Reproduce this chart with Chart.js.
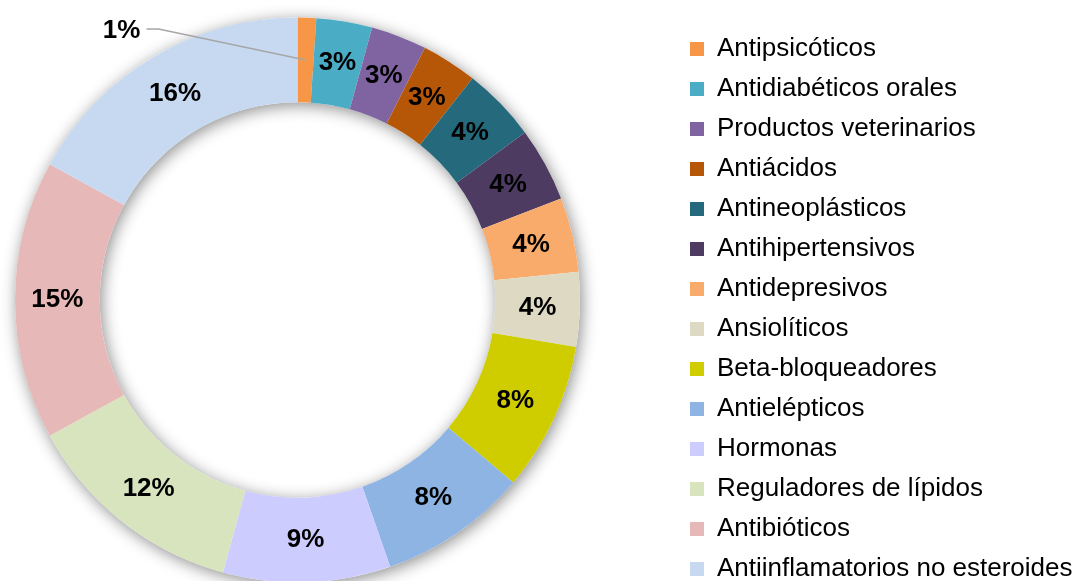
<!DOCTYPE html>
<html>
<head>
<meta charset="utf-8">
<script src="https://cdn.jsdelivr.net/npm/chart.js@4.4.1/dist/chart.umd.min.js"></script>
<style>
  html, body { margin: 0; padding: 0; background: #fff; overflow: hidden; }
  #chart { display: block; }
</style>
</head>
<body>
<canvas id="chart" width="1081" height="600"></canvas>
<script>
// 데이터 (시계 방향, 위쪽에서 시작)
const categories = [
  "Antipsicóticos",
  "Antidiabéticos orales",
  "Productos veterinarios",
  "Antiácidos",
  "Antineoplásticos",
  "Antihipertensivos",
  "Antidepresivos",
  "Ansiolíticos",
  "Beta-bloqueadores",
  "Antielépticos",
  "Hormonas",
  "Reguladores de lípidos",
  "Antibióticos",
  "Antiinflamatorios no esteroides",
];
const shares = [1, 3, 3, 3, 4, 4, 4, 4, 8, 8, 9, 12, 15, 16];
const colors = [
  "#F79646",
  "#4BACC6",
  "#8064A2",
  "#B65708",
  "#256A7C",
  "#4D3B62",
  "#F9AB6B",
  "#DDD9C3",
  "#CFCC00",
  "#8EB4E3",
  "#CCCCFF",
  "#D7E4BD",
  "#E6B9B8",
  "#C6D9F1",
];

const FONT = "Arial, 'Liberation Sans', sans-serif";

// 범례 위치 조정: 차트 영역 폭을 고정하고 범례를 오른쪽으로 이동
const legendPlacement = {
  id: "legendPlacement",
  beforeInit(chart) {
    const originalFit = chart.legend.fit;
    chart.legend.fit = function () {
      originalFit.bind(chart.legend)();
      this.width = 501;
    };
  },
  afterLayout(chart) {
    const lg = chart.legend;
    lg.left += 96;
    lg.right += 96;
    lg.top += 22;
    lg.bottom += 22;
  },
};

// 링 그림자 (엑셀 스타일)
const ringShadow = {
  id: "ringShadow",
  beforeDatasetsDraw(chart) {
    const arc = chart.getDatasetMeta(0).data[0];
    if (!arc) return;
    const { x, y, innerRadius, outerRadius } = arc.getProps(
      ["x", "y", "innerRadius", "outerRadius"],
      true
    );
    const ctx = chart.ctx;
    ctx.save();
    ctx.shadowColor = "rgba(0, 0, 0, 0.45)";
    ctx.shadowBlur = 16;
    ctx.shadowOffsetX = 2;
    ctx.shadowOffsetY = 3;
    ctx.fillStyle = "#ffffff";
    ctx.beginPath();
    ctx.arc(x, y, outerRadius, 0, Math.PI * 2);
    ctx.arc(x, y, innerRadius, 0, Math.PI * 2, true);
    ctx.closePath();
    ctx.fill();
    ctx.restore();
  },
};

// 퍼센트 라벨
const arcLabels = {
  id: "arcLabels",
  afterDatasetsDraw(chart) {
    const ctx = chart.ctx;
    const meta = chart.getDatasetMeta(0);
    ctx.save();
    ctx.font = "bold 26px " + FONT;
    ctx.fillStyle = "#000000";
    ctx.textAlign = "center";
    ctx.textBaseline = "middle";
    meta.data.forEach((arc, i) => {
      const p = arc.tooltipPosition(true);
      const text = shares[i] + "%";
      if (i === 0) {
        // 작은 조각은 바깥에 라벨 + 지시선
        const lx = p.x - 184;
        const ly = p.y - 29;
        ctx.strokeStyle = "#A6A6A6";
        ctx.lineWidth = 1.5;
        ctx.beginPath();
        ctx.moveTo(lx + 25, ly - 2);
        ctx.lineTo(lx + 37, ly - 2);
        ctx.lineTo(p.x, p.y);
        ctx.stroke();
        ctx.fillText(text, lx, ly);
      } else {
        ctx.fillText(text, p.x, p.y);
      }
    });
    ctx.restore();
  },
};

new Chart(document.getElementById("chart"), {
  type: "doughnut",
  data: {
    labels: categories,
    datasets: [
      {
        data: shares,
        backgroundColor: colors,
        borderWidth: 0,
        hoverOffset: 0,
      },
    ],
  },
  options: {
    responsive: false,
    animation: false,
    cutout: "70%",
    layout: {
      padding: { left: 15, right: 0, top: 0, bottom: 0 },
    },
    plugins: {
      legend: {
        position: "right",
        align: "start",
        labels: {
          boxWidth: 14,
          boxHeight: 14,
          padding: 14,
          color: "#000000",
          font: { family: FONT, size: 26 },
        },
      },
      tooltip: { enabled: false },
    },
  },
  plugins: [legendPlacement, ringShadow, arcLabels],
});
</script>
</body>
</html>
